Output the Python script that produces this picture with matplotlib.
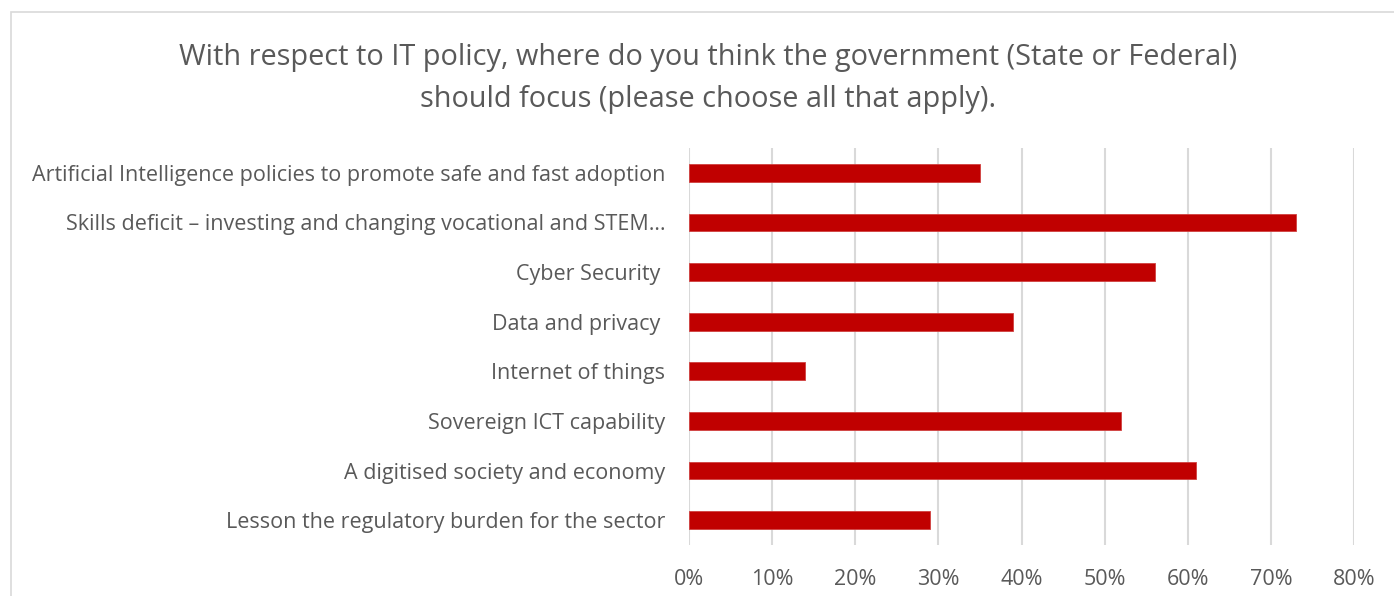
import matplotlib.pyplot as plt
from matplotlib.patches import Rectangle
from matplotlib.ticker import PercentFormatter

# survey answers, top to bottom as shown
categories = [
    'Artificial Intelligence policies to promote safe and fast adoption',
    'Skills deficit \u2013 investing and changing vocational and STEM\u2026',
    'Cyber Security ',
    'Data and privacy ',
    'Internet of things',
    'Sovereign ICT capability',
    'A digitised society and economy',
    'Lesson the regulatory burden for the sector',
]
share = [35, 73, 56, 39, 14, 52, 61, 29]
x_ticks = [0, 10, 20, 30, 40, 50, 60, 70, 80]

title = ('With respect to IT policy, where do you think the government (State or Federal)\n'
         'should focus (please choose all that apply).')

text_grey = '#595959'
bar_red = '#C00000'
grid_grey = '#D9D9D9'

plt.rcParams['font.family'] = ['Open Sans', 'DejaVu Sans']

fig = plt.figure(figsize=(13.94, 5.96), dpi=100)

# chart area border (runs off the right and bottom edges)
fig.patches.append(Rectangle((11 / 1394, -0.05), 1.1, 1 - 12 / 596 + 0.05,
                             transform=fig.transFigure, fill=False,
                             edgecolor='#D9D9D9', linewidth=1.2))

ax = fig.add_axes([689 / 1394, 51 / 596, 665 / 1394, 397 / 596])

ypos = list(range(len(categories)))
ax.barh(ypos, share, height=0.36, color=bar_red, edgecolor='#D0403F',
        linewidth=0.6, zorder=3)

ax.set_xlim(0, 80)
ax.set_ylim(len(categories) - 0.5, -0.5)
ax.set_xticks(x_ticks)
ax.xaxis.set_major_formatter(PercentFormatter(decimals=0))
ax.set_yticks(ypos)
ax.set_yticklabels(categories)

ax.grid(axis='x', color=grid_grey, linewidth=1.5, zorder=0)
for s in ax.spines.values():
    s.set_visible(False)
ax.tick_params(axis='both', length=0, colors=text_grey, labelsize=15.5)
ax.tick_params(axis='y', pad=17)
ax.tick_params(axis='x', pad=17)

fig.text(708 / 1394, 1 - 78.5 / 596, title, ha='center', va='center', color=text_grey,
         fontsize=20.8, linespacing=1.6)

fig.savefig('out.png', dpi=100)
